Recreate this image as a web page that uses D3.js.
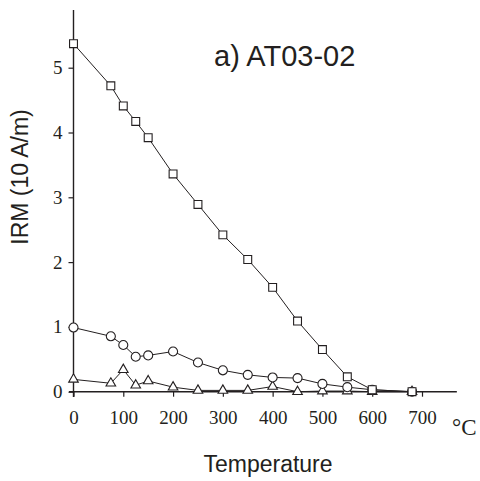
<!DOCTYPE html>
<html><head><meta charset="utf-8">
<script src="https://cdn.jsdelivr.net/npm/d3@7"></script>
<style>body{margin:0;background:#fff}</style>
</head><body>
<svg id="c" width="480" height="481"></svg>
<script>
const temps = [0,75,100,125,150,200,250,300,350,400,450,500,550,600,680];
const squareVals = [5.37,4.72,4.41,4.17,3.92,3.36,2.89,2.42,2.04,1.61,1.09,0.65,0.23,0.03,0.0];
const circleVals = [0.99,0.855,0.72,0.54,0.56,0.62,0.45,0.33,0.26,0.22,0.21,0.12,0.07,0.03,0.0];
const triangleVals = [0.19,0.13,0.34,0.10,0.165,0.07,0.02,0.02,0.02,0.08,0.0,0.01,0.01,0.0,0.0];
const xTicks = [0,100,200,300,400,500,600,700];
const yTicks = [0,1,2,3,4,5];

const svg = d3.select("#c");
const x = d3.scaleLinear().domain([0,700]).range([73.5,422]);
const y = d3.scaleLinear().domain([0,5]).range([391.7,67.7]);
const ink = "#231f20";

// axis lines
svg.append("line").attr("x1",x(-9)).attr("x2",x(770)).attr("y1",y(0)).attr("y2",y(0))
  .attr("stroke",ink).attr("stroke-width",1.4);
svg.append("line").attr("x1",x(0)).attr("x2",x(0)).attr("y1",y(-0.08)).attr("y2",y(5.89))
  .attr("stroke",ink).attr("stroke-width",1.4);

const yAxis = svg.append("g").attr("transform",`translate(${x(0)},0)`)
  .call(d3.axisLeft(y).tickValues(yTicks).tickSize(5).tickSizeOuter(0).tickPadding(6).tickFormat(d3.format("d")));
yAxis.select(".domain").remove();
yAxis.selectAll("line").attr("stroke",ink).attr("stroke-width",1.2);
yAxis.selectAll("text").attr("font-family","'Liberation Serif', serif").attr("font-size",19).attr("fill",ink);

const xAxis = svg.append("g").attr("transform",`translate(0,${y(0)})`)
  .call(d3.axisBottom(x).tickValues(xTicks).tickSize(5).tickSizeOuter(0).tickPadding(14).tickFormat(d3.format("d")));
xAxis.select(".domain").remove();
xAxis.selectAll("line").attr("stroke",ink).attr("stroke-width",1.2);
xAxis.selectAll("text").attr("font-family","'Liberation Serif', serif").attr("font-size",19).attr("fill",ink);

svg.append("text").attr("x",452).attr("y",435).text("°C")
  .attr("font-family","'Liberation Serif', serif").attr("font-size",23).attr("fill",ink);

svg.append("text").attr("x",268).attr("y",472).attr("text-anchor","middle").text("Temperature")
  .attr("font-family","'Liberation Sans', Arial, sans-serif").attr("font-size",23).attr("fill",ink);

svg.append("text").attr("transform","translate(28,177) rotate(-90)").attr("text-anchor","middle")
  .text("IRM (10 A/m)")
  .attr("font-family","'Liberation Sans', Arial, sans-serif").attr("font-size",23).attr("fill",ink);

svg.append("text").attr("x",214).attr("y",66).text("a) AT03-02")
  .attr("font-family","'Liberation Sans', Arial, sans-serif").attr("font-size",29).attr("fill",ink);

const series = [
  {vals: triangleVals, sym: d3.symbolTriangle, size: 40},
  {vals: circleVals, sym: d3.symbolCircle, size: 64},
  {vals: squareVals, sym: d3.symbolSquare, size: 62}
];
const line = d3.line().x((d)=>x(d[0])).y((d)=>y(d[1]));
series.forEach(s=>{
  const pts = temps.map((t,i)=>[t,s.vals[i]]);
  svg.append("path").attr("d",line(pts)).attr("fill","none").attr("stroke",ink).attr("stroke-width",1);
  svg.append("g").selectAll("path").data(pts).join("path")
    .attr("transform",d=>`translate(${x(d[0])},${y(d[1])})`)
    .attr("d",d3.symbol().type(s.sym).size(s.size))
    .attr("fill","#fff").attr("stroke",ink).attr("stroke-width",1.1);
});
</script>
</body></html>
